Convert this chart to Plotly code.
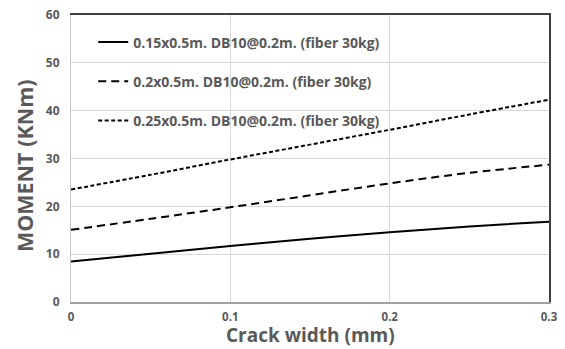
import plotly.graph_objects as go

crack_width = [0, 0.05, 0.1, 0.15, 0.2, 0.25, 0.3]
moment_015 = [8.45, 10.1, 11.7, 13.2, 14.6, 15.8, 16.8]
moment_020 = [15.1, 17.4, 19.8, 22.3, 24.8, 27.0, 28.7]
moment_025 = [23.5, 26.6, 29.8, 32.9, 36.0, 39.2, 42.3]
names = ["0.15x0.5m. DB10@0.2m. (fiber 30kg)",
         "0.2x0.5m. DB10@0.2m. (fiber 30kg)",
         "0.25x0.5m. DB10@0.2m. (fiber 30kg)"]
y_ticks = [0, 10, 20, 30, 40, 50, 60]
x_ticks = [0, 0.1, 0.2, 0.3]
x_tick_labels = ["0", "0.1", "0.2", "0.3"]
x_title = "Crack width (mm)"
y_title = "MOMENT (KNm)"

FONT = "Open Sans"
GRAY = "#595959"

fig = go.Figure()
series = [moment_015, moment_020, moment_025]
dashes = ["solid", "8px,5px", "4px,2.5px"]
for i, (ys, nm, ds) in enumerate(zip(series, names, dashes)):
    fig.add_trace(go.Scatter(
        x=crack_width, y=ys, name=nm, mode="lines",
        line=dict(color="black", width=2, dash=ds, shape="spline", smoothing=1.0),
        legendgroup=f"g{i}",
    ))

# empty trace on overlay axes that draw the dark top / right frame
fig.add_trace(go.Scatter(x=[None], y=[None], xaxis="x2", yaxis="y2",
                         showlegend=False, hoverinfo="skip", mode="lines"))

fig.update_layout(
    width=565, height=349,
    margin=dict(l=71, r=16, t=15, b=47),
    paper_bgcolor="white", plot_bgcolor="white",
    font=dict(family=FONT, color=GRAY, size=12),
    showlegend=True,
    legend=dict(
        x=0.0465, y=0.96, xanchor="left", yanchor="top",
        bgcolor="rgba(0,0,0,0)",
        font=dict(family=FONT, size=14, color=GRAY, weight="bold"),
        tracegroupgap=18,
        itemwidth=30,
    ),
    xaxis=dict(
        range=[0, 0.3], tickvals=x_ticks, ticktext=x_tick_labels,
        showgrid=True, gridcolor="#d9d9d9", gridwidth=1,
        showline=True, linecolor="#a0a0a0", linewidth=1.5,
        zeroline=False, ticks="", automargin=False,
        tickfont=dict(family=FONT, size=11.5, color=GRAY, weight="bold"),
        ticklabelstandoff=3,
    ),
    yaxis=dict(
        range=[0, 60], tickvals=y_ticks,
        showgrid=True, gridcolor="#d9d9d9", gridwidth=1,
        showline=True, linecolor="#c8c8c8", linewidth=1,
        zeroline=False, ticks="", automargin=False,
        tickfont=dict(family=FONT, size=12, color=GRAY, weight="bold"),
        ticklabelstandoff=8,
    ),
    xaxis2=dict(
        overlaying="x", side="top", anchor="y2", range=[0, 0.3],
        showline=True, linecolor="#404040", linewidth=2,
        showgrid=False, zeroline=False, showticklabels=False, ticks="",
        automargin=False,
    ),
    yaxis2=dict(
        overlaying="y", side="right", anchor="x2", range=[0, 60],
        showline=True, linecolor="#404040", linewidth=2,
        showgrid=False, zeroline=False, showticklabels=False, ticks="",
        automargin=False,
    ),
    annotations=[
        dict(text=x_title, xref="paper", yref="paper", x=0.5, y=0,
             xanchor="center", yanchor="bottom", yshift=-47, showarrow=False,
             borderpad=0,
             font=dict(family=FONT, size=19, color=GRAY, weight="bold")),
        dict(text=y_title, xref="paper", yref="paper", x=-0.096, y=0.474,
             xanchor="center", yanchor="middle", textangle=-90, showarrow=False,
             font=dict(family=FONT, size=21.5, color=GRAY, weight="bold")),
    ],
)

fig.write_html("out.html")
